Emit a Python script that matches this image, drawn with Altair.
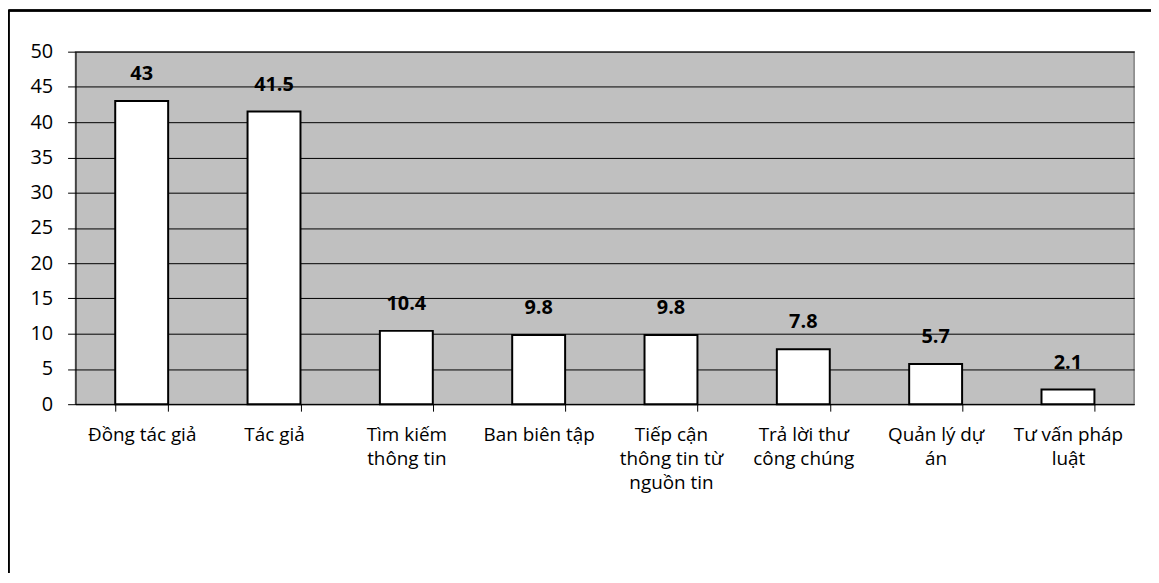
import altair as alt
import pandas as pd

categories = [
    "Đồng tác giả",
    "Tác giả",
    "Tìm kiếm|thông tin",
    "Ban biên tập",
    "Tiếp cận|thông tin từ|nguồn tin",
    "Trả lời thư|công chúng",
    "Quản lý dự|án",
    "Tư vấn pháp|luật",
]
values = [43, 41.5, 10.4, 9.8, 9.8, 7.8, 5.7, 2.1]
value_labels = ["43", "41.5", "10.4", "9.8", "9.8", "7.8", "5.7", "2.1"]
y_ticks = [0, 5, 10, 15, 20, 25, 30, 35, 40, 45, 50]

df = pd.DataFrame({"cat": categories, "val": values, "lab": value_labels})

FONT = "Open Sans"

x = alt.X(
    "cat:N",
    sort=categories,
    title=None,
    scale=alt.Scale(paddingInner=0.6, paddingOuter=0.3),
    axis=alt.Axis(
        labelAngle=0,
        labelExpr="split(datum.label, '|')",
        labelFont=FONT,
        labelFontSize=19,
        labelColor="#000000",
        labelLineHeight=24,
        labelPadding=15,
        labelBaseline="top",
        labelOverlap=False,
        labelLimit=0,
        tickBand="extent",
        tickSize=7,
        tickColor="#000000",
        domainColor="#000000",
        domainWidth=1,
        tickWidth=1,
        grid=False,
    ),
)

y = alt.Y(
    "val:Q",
    title=None,
    scale=alt.Scale(domain=[0, 50], nice=False),
    axis=alt.Axis(
        values=y_ticks,
        labelFont=FONT,
        labelFontSize=20,
        labelColor="#000000",
        labelPadding=15,
        labelOverlap=False,
        tickSize=8,
        tickColor="#000000",
        domainColor="#000000",
        grid=True,
        gridColor="#000000",
        gridWidth=1,
        gridOpacity=1,
    ),
)

bars = alt.Chart(df).mark_bar(
    fill="#ffffff", stroke="#000000", strokeWidth=2
).encode(x=x, y=y)

text = alt.Chart(df).mark_text(
    font=FONT, fontSize=20, fontWeight="bold", baseline="middle", dy=-27, color="#000000"
).encode(x=x, y=y, text="lab:N")

frame_top = alt.Chart(df).mark_rule(color="#000000", strokeWidth=1.5).encode(
    x=alt.value(-67.5), x2=alt.value(1090), y=alt.value(-41.5)
)
frame_left = alt.Chart(df).mark_rule(color="#000000", strokeWidth=1.5).encode(
    x=alt.value(-67.5), y=alt.value(-41.5), y2=alt.value(600)
)

chart = (
    alt.layer(bars, text, frame_top, frame_left)
    .properties(
        width=1066,
        height=355,
        autosize=alt.AutoSizeParams(type="none"),
        padding={"left": 68, "top": 42, "right": 17, "bottom": 168},
        background="#ffffff",
    )
    .configure_view(fill="#C0C0C0", stroke="#808080", strokeWidth=1.5)
)

chart.save("out.html", embed_options={"renderer": "svg", "actions": False})
